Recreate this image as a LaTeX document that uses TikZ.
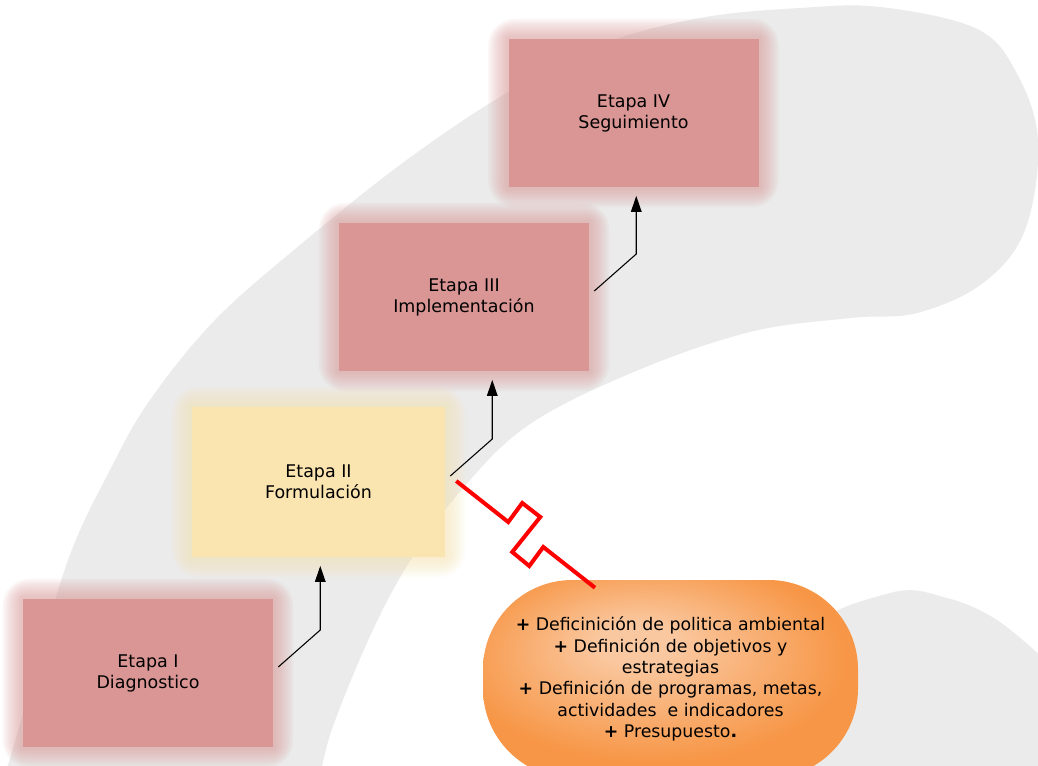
\documentclass[tikz,border=0pt]{standalone}
\usepackage{fontspec}
\setmainfont{DejaVu Sans}
\usetikzlibrary{arrows.meta,calc,backgrounds}

\definecolor{rosa}{HTML}{D99694}
\definecolor{crema}{HTML}{FAE5B0}
\definecolor{gris}{HTML}{EBEBEB}
\definecolor{naranja}{HTML}{F79646}
\definecolor{naranjaclaro}{HTML}{FAC8A0}

\pgfdeclareradialshading{brillo}{\pgfpoint{-5bp}{10bp}}{color(0bp)=(naranjaclaro); color(5bp)=(naranjaclaro); color(26bp)=(naranja); color(50bp)=(naranja)}

\newcommand\etapafont{\fontsize{13.1}{15.75}\selectfont}

\tikzset{
  etapa/.style={rectangle, fill=rosa, inner sep=0pt, minimum width=250*0.75pt, minimum height=148*0.75pt, align=center, font=\etapafont},
  plan/.style={rectangle, shade, shading=brillo, rounded corners=67pt, inner sep=0pt, minimum width=375*0.75pt, minimum height=198*0.75pt, align=center, font=\fontsize{13}{16}\selectfont},
  sube/.style={draw, line width=0.8pt, -{Triangle[length=12pt,width=8pt]}, shorten >=6.5pt},
  rayo/.style={draw=red, line width=3pt, line join=miter}
}

\begin{document}
\begin{tikzpicture}[x=0.75pt,y=0.75pt]
    \useasboundingbox (0,0) rectangle (1038,-765);

    % etapas
    \node[etapa] (etapaI) at (148,-673) {Etapa I\\Diagnostico};
    \node[etapa, fill=crema, minimum width=253*0.75pt, minimum height=150*0.75pt] (etapaII) at (318.5,-482) {Etapa II\\Formulación};
    \node[etapa] (etapaIII) at (464,-297) {Etapa III\\Implementación};
    \node[etapa] (etapaIV) at (633.5,-113) {Etapa IV\\Seguimiento};

    \node[plan] (plan) at (670.5,-679) {\textbf{+} Deficinición de politica ambiental\\
        \textbf{+} Definición de objetivos y\\
        estrategias\\
        \textbf{+} Definición de programas, metas,\\
        actividades~ e indicadores\\
        \textbf{+} Presupuesto\textbf{.}};

    \draw[sube] ($(etapaI.east)+(5,6)$) -- ++(42,37) coordinate (c1) -- (c1 |- etapaII.south);
    \draw[sube] ($(etapaII.east)+(5,6)$) -- ++(42,37) coordinate (c2) -- (c2 |- etapaIII.south);
    \draw[sube] ($(etapaIII.east)+(5,6)$) -- ++(42,37) coordinate (c3) -- (c3 |- etapaIV.south);

    % rayo hacia el plan
    \draw[rayo] ($(etapaII.east)+(11,1)$) -- ++(52,-41) -- ++(14,19) -- ++(18,-14) -- ++(-28,-35)
        -- ++(17,-14) -- ++(14,19) -- ($(plan.north)+(-75.5,-8)$);

    \begin{scope}[on background layer]
        \clip (0,0) rectangle (1038,-765);
        \fill[white] (0,0) rectangle (1038,-765);
        \fill[gris] plot[smooth, tension=0.6] coordinates {(0,-790) (8,-765) (30,-690) (68,-560)
            (110,-470) (150,-400) (215,-320) (300,-245) (400,-165) (500,-97) (600,-45) (700,-18)
            (800,-8) (880,-7) (975,-28) (1015,-70) (1038,-140) (1025,-230) (983,-283) (917,-313)
            (850,-318) (750,-332) (636,-371) (530,-424) (463,-488) (410,-561) (371,-634)
            (331,-732) (318,-790)} -- cycle;
        \fill[gris] plot[smooth, tension=0.6] coordinates {(760,-780) (800,-640) (890,-593) (947,-598)
            (997,-620) (1045,-660)} -- (1045,-780) -- cycle;
        % halos
        \foreach \n/\c in {etapaI/rosa, etapaII/crema, etapaIII/rosa, etapaIV/rosa}
          \foreach \r in {2,4,...,20}
            \fill[\c, opacity=0.075, rounded corners=\r] ($(\n.south west)+(-\r,-\r)$) rectangle ($(\n.north east)+(\r,\r)$);
    \end{scope}
\end{tikzpicture}
\end{document}
